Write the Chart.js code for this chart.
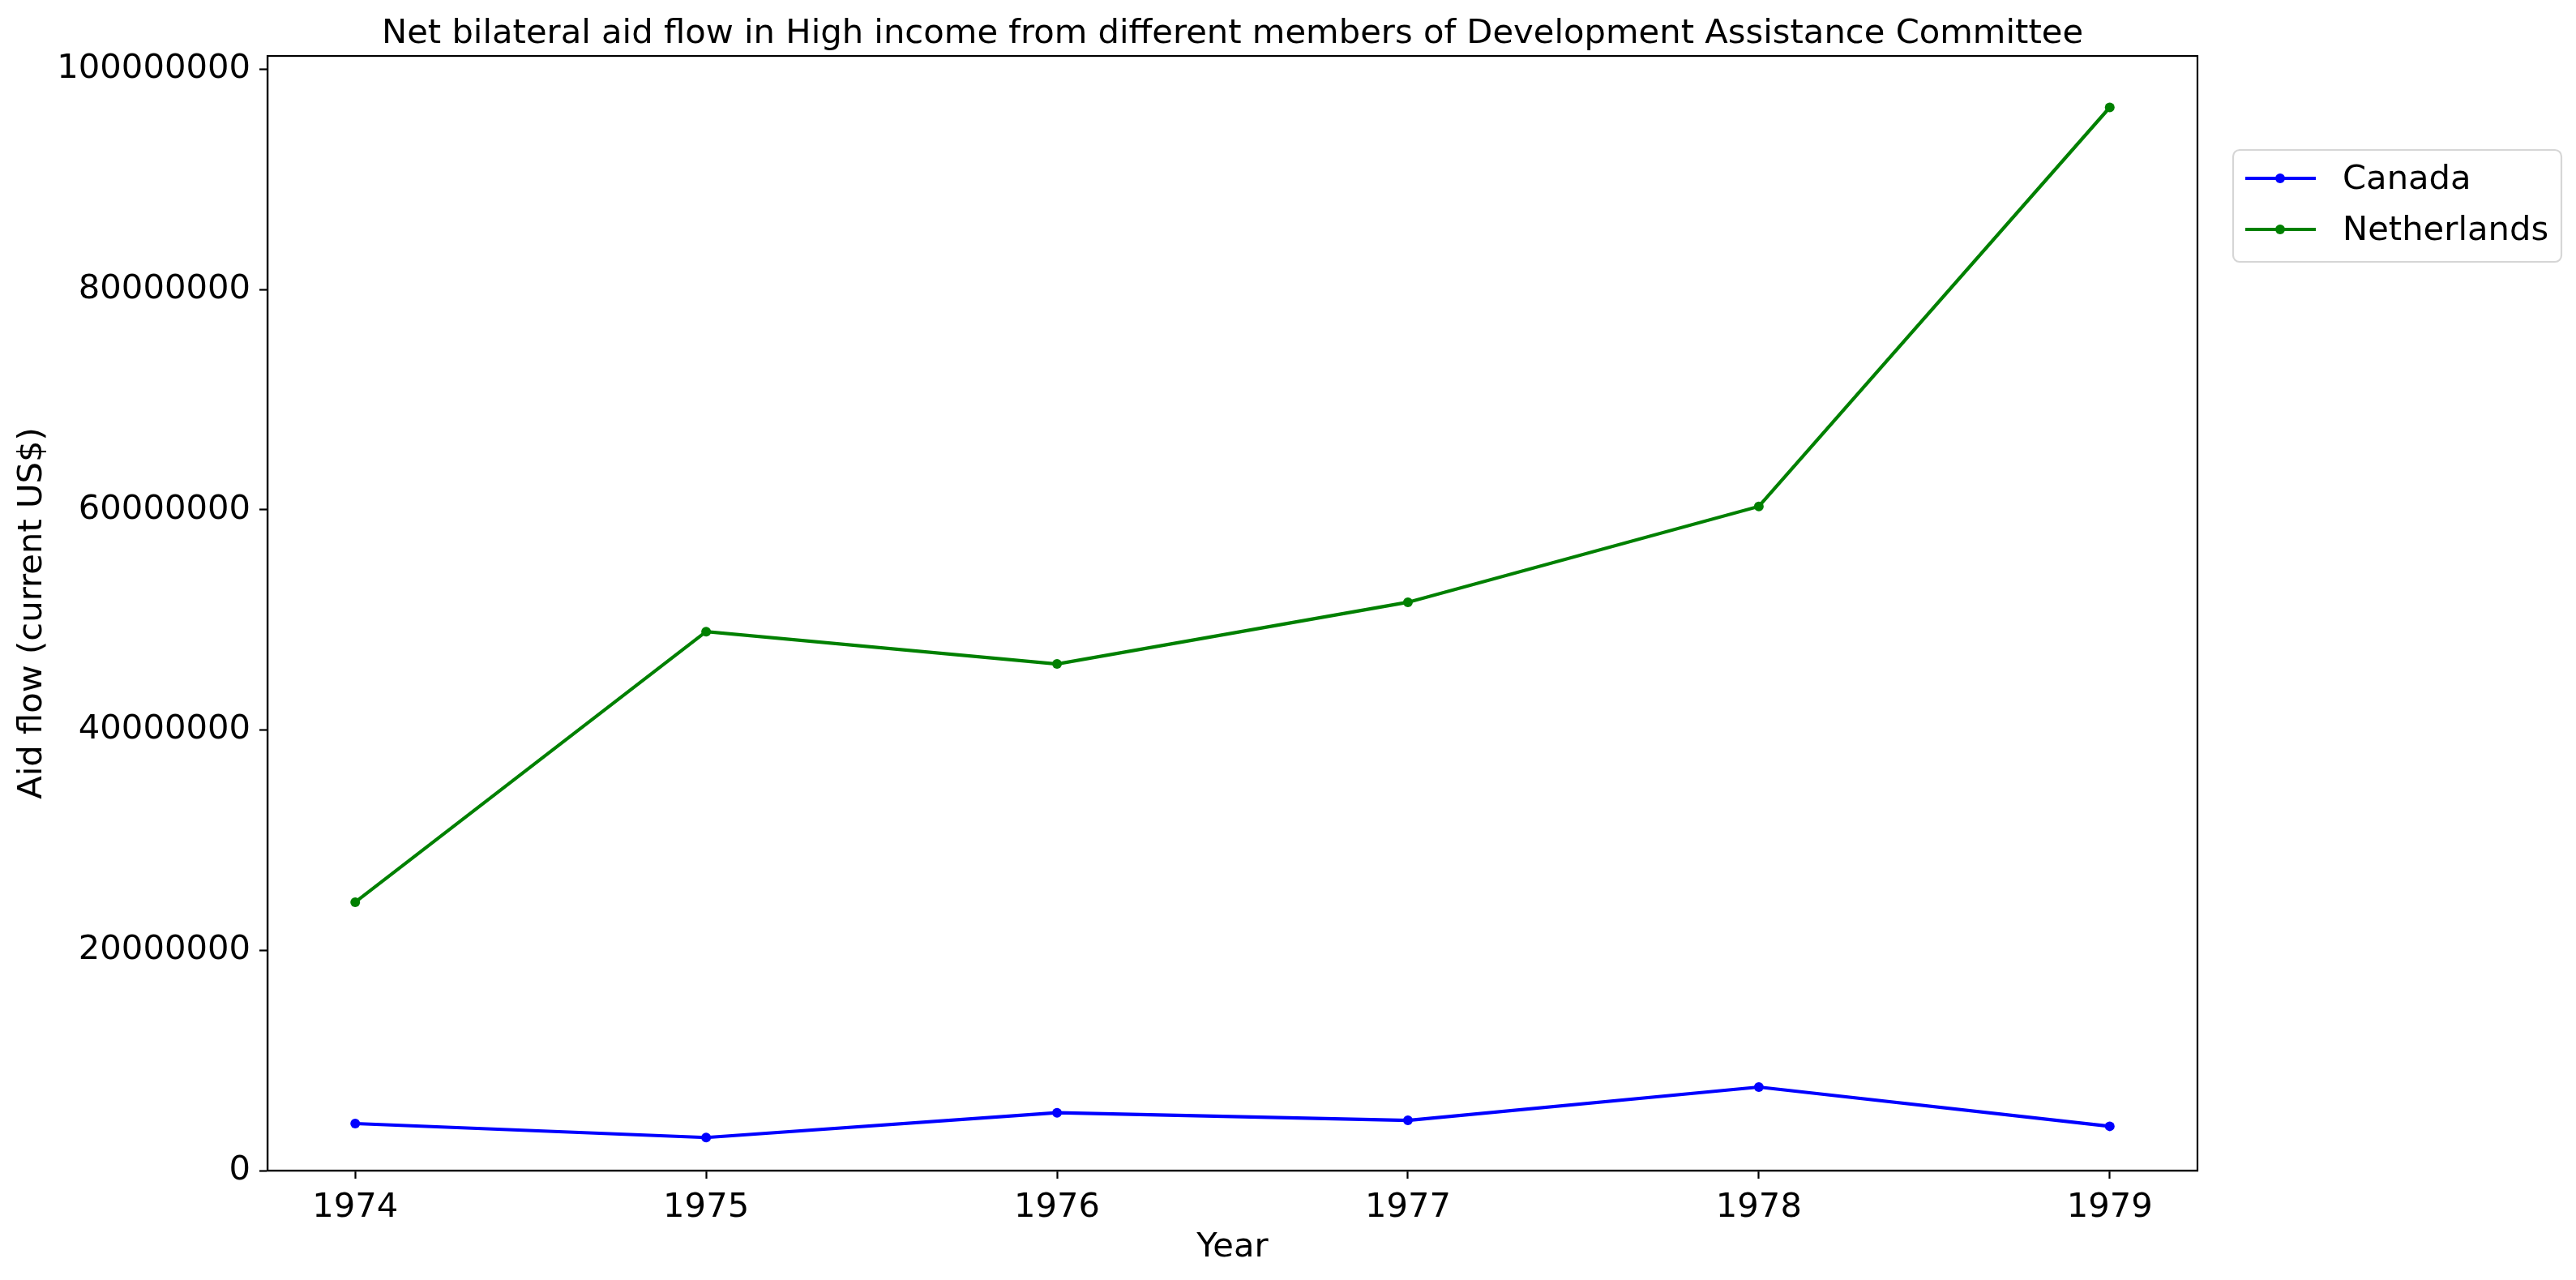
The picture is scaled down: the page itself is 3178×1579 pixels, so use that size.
<!DOCTYPE html>
<html>
<head>
<meta charset="utf-8">
<script src="https://cdn.jsdelivr.net/npm/chart.js@4.4.0/dist/chart.umd.min.js"></script>
<style>
html, body { margin: 0; padding: 0; background: #fff; }
#chart { display: block; }
</style>
</head>
<body>
<canvas id="chart" width="3178" height="1579"></canvas>
<script>
const years = [1974, 1975, 1976, 1977, 1978, 1979];
const canada = [4270000, 3000000, 5250000, 4560000, 7580000, 4020000];
const netherlands = [24370000, 48930000, 46000000, 51600000, 60300000, 96530000];
const seriesNames = ['Canada', 'Netherlands'];
const seriesColors = ['#0000ff', '#008000'];
const yTicks = [0, 20000000, 40000000, 60000000, 80000000, 100000000];

const FONT = 'DejaVu Sans';
const FS = 41.7;

function toPoints(values) {
    return years.map((yr, i) => ({ x: yr, y: values[i] }));
}

function makeDataset(name, values, color) {
    return {
        label: name,
        data: toPoints(values),
        borderColor: color,
        backgroundColor: color,
        borderWidth: 4.2,
        pointRadius: 6,
        pointBorderWidth: 0,
        pointBackgroundColor: color,
        tension: 0
    };
}

// frame around the plot area, like matplotlib spines
const frame = {
    id: 'frame',
    afterDatasetsDraw(chart) {
        const a = chart.chartArea;
        const ctx = chart.ctx;
        ctx.save();
        ctx.strokeStyle = '#000';
        ctx.lineWidth = 2.2;
        ctx.strokeRect(a.left, a.top, a.right - a.left, a.bottom - a.top);
        ctx.restore();
    }
};

// legend box outside the plot, upper right
const boxLegend = {
    id: 'boxLegend',
    afterDraw(chart) {
        const ctx = chart.ctx;
        const left = 2755, top = 185, width = 405, height = 138;
        ctx.save();
        ctx.beginPath();
        ctx.roundRect(left, top, width, height, 8);
        ctx.fillStyle = 'rgba(255,255,255,0.8)';
        ctx.fill();
        ctx.strokeStyle = '#d6d6d6';
        ctx.lineWidth = 2.2;
        ctx.stroke();
        chart.data.datasets.forEach((ds, i) => {
            const y = 220 + i * 63;
            ctx.strokeStyle = ds.borderColor;
            ctx.lineWidth = 4.2;
            ctx.beginPath();
            ctx.moveTo(2770, y);
            ctx.lineTo(2857, y);
            ctx.stroke();
            ctx.fillStyle = ds.borderColor;
            ctx.beginPath();
            ctx.arc(2813, y, 6, 0, Math.PI * 2);
            ctx.fill();
            ctx.fillStyle = '#000';
            ctx.font = FS + 'px "' + FONT + '"';
            ctx.textBaseline = 'middle';
            ctx.textAlign = 'left';
            ctx.fillText(ds.label, 2890, y + 2);
        });
        ctx.restore();
    }
};

const ctx = document.getElementById('chart').getContext('2d');
const chart = new Chart(ctx, {
    type: 'line',
    data: {
        datasets: [
            makeDataset(seriesNames[0], canada, seriesColors[0]),
            makeDataset(seriesNames[1], netherlands, seriesColors[1])
        ]
    },
    options: {
        responsive: false,
        devicePixelRatio: 1,
        animation: false,
        layout: { padding: { left: 0, right: 467, top: 0, bottom: 0 } },
        plugins: {
            legend: { display: false },
            tooltip: { enabled: false },
            title: {
                display: true,
                fullSize: false,
                text: 'Net bilateral aid flow in High income from different members of Development Assistance Committee',
                color: '#000',
                font: { family: FONT, size: FS, weight: 'normal' },
                padding: { top: 17, bottom: 2 }
            }
        },
        scales: {
            x: {
                type: 'linear',
                min: 1973.75,
                max: 1979.25,
                afterFit(scale) { scale.height = 135; },
                grid: {
                    drawOnChartArea: false,
                    drawTicks: true,
                    tickLength: 10,
                    tickWidth: 2.2,
                    tickColor: '#000'
                },
                border: { display: true, color: '#000', width: 2.2 },
                ticks: {
                    stepSize: 1,
                    includeBounds: false,
                    color: '#000',
                    padding: 11,
                    maxRotation: 0,
                    font: { family: FONT, size: FS },
                    callback: v => String(v)
                },
                title: {
                    display: true,
                    text: 'Year',
                    color: '#000',
                    font: { family: FONT, size: FS },
                    padding: { top: 0, bottom: 15 }
                }
            },
            y: {
                type: 'linear',
                min: 0,
                max: 101200000,
                afterFit(scale) { scale.width = 330; },
                afterBuildTicks(scale) { scale.ticks = yTicks.map(v => ({ value: v })); },
                grid: {
                    drawOnChartArea: false,
                    drawTicks: true,
                    tickLength: 10,
                    tickWidth: 2.2,
                    tickColor: '#000'
                },
                border: { display: true, color: '#000', width: 2.2 },
                ticks: {
                    includeBounds: false,
                    color: '#000',
                    padding: 11,
                    font: { family: FONT, size: FS },
                    callback: v => String(v)
                },
                title: {
                    display: true,
                    text: 'Aid flow (current US$)',
                    color: '#000',
                    font: { family: FONT, size: FS },
                    padding: { top: 15, bottom: 0 }
                }
            }
        }
    },
    plugins: [frame, boxLegend]
});
</script>
</body>
</html>
